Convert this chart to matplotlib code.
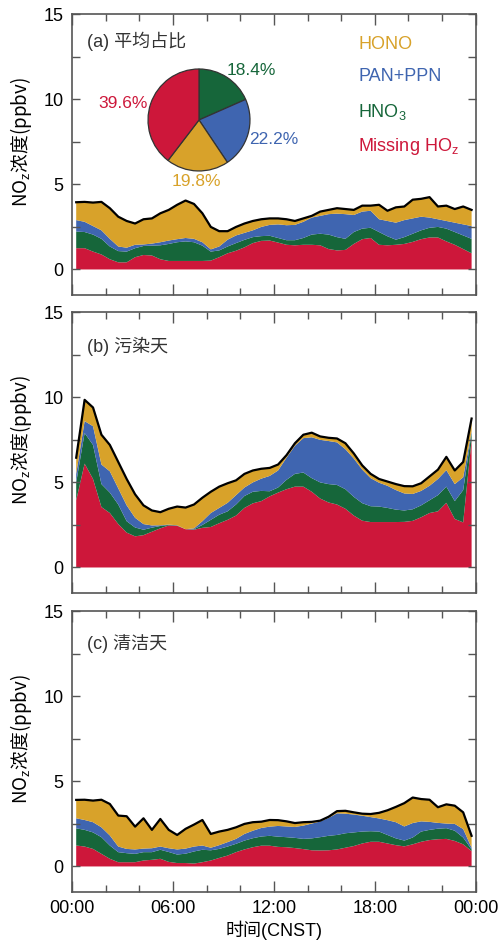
import numpy as np
import matplotlib
matplotlib.use("Agg")
import matplotlib.pyplot as plt
from matplotlib.ticker import MultipleLocator, FixedLocator

plt.rcParams['font.family'] = ['Liberation Sans', 'Noto Sans CJK SC']
plt.rcParams['mathtext.fontset'] = 'custom'
plt.rcParams['mathtext.rm'] = 'Liberation Sans'
plt.rcParams['mathtext.it'] = 'Liberation Sans:italic'
plt.rcParams['axes.unicode_minus'] = False

# 半小时平均，时间取每个时段中点
hours = np.arange(48) * 0.5 + 0.25

# (a) 平均日变化
missing_a = [1.25, 1.25, 1.05, 0.88, 0.60, 0.42, 0.42, 0.72, 0.85, 0.82, 0.60, 0.50,
             0.50, 0.50, 0.50, 0.50, 0.52, 0.72, 0.95, 1.10, 1.30, 1.55, 1.68, 1.70,
             1.58, 1.45, 1.42, 1.45, 1.45, 1.42, 1.20, 1.12, 1.15, 1.50, 1.78, 1.85,
             1.45, 1.42, 1.45, 1.50, 1.62, 1.78, 1.88, 1.88, 1.65, 1.45, 1.20, 0.95]
hno3_a = [0.98, 0.95, 1.00, 0.92, 0.75, 0.66, 0.63, 0.53, 0.53, 0.58, 0.82, 1.00,
          1.10, 1.15, 1.10, 0.90, 0.53, 0.40, 0.40, 0.45, 0.44, 0.35, 0.28, 0.28,
          0.27, 0.27, 0.30, 0.40, 0.60, 0.68, 0.85, 0.78, 0.65, 0.70, 0.62, 0.60,
          0.75, 0.53, 0.30, 0.40, 0.48, 0.52, 0.57, 0.62, 0.75, 0.75, 0.80, 0.85]
pan_a = [0.67, 0.60, 0.50, 0.50, 0.45, 0.27, 0.23, 0.20, 0.09, 0.12, 0.18, 0.20,
         0.18, 0.20, 0.20, 0.20, 0.13, 0.23, 0.40, 0.45, 0.41, 0.40, 0.54, 0.64,
         0.80, 0.88, 0.90, 0.95, 1.00, 1.05, 1.20, 1.38, 1.45, 1.00, 1.00, 1.00,
         0.75, 0.90, 1.00, 1.00, 0.90, 0.80, 0.60, 0.45, 0.45, 0.55, 0.65, 0.75]
hono_a = [1.05, 1.17, 1.38, 1.67, 1.80, 1.75, 1.57, 1.25, 1.48, 1.48, 1.70, 1.80,
          2.02, 2.20, 2.05, 1.70, 1.32, 0.90, 0.50, 0.50, 0.55, 0.55, 0.45, 0.38,
          0.35, 0.35, 0.23, 0.20, 0.10, 0.25, 0.25, 0.32, 0.30, 0.30, 0.35, 0.30,
          0.85, 0.60, 0.90, 0.80, 1.10, 1.05, 1.20, 0.75, 0.90, 0.80, 1.05, 0.95]

# (b) 污染天
missing_b = [3.95, 6.10, 5.20, 3.55, 3.20, 2.55, 2.05, 1.83, 1.90, 2.10, 2.30, 2.47,
             2.45, 2.25, 2.22, 2.33, 2.38, 2.60, 2.80, 3.05, 3.50, 3.77, 3.90, 4.18,
             4.40, 4.60, 4.75, 4.75, 4.45, 4.05, 3.82, 3.70, 3.45, 3.05, 2.75, 2.67,
             2.67, 2.67, 2.67, 2.68, 2.74, 2.95, 3.20, 3.30, 3.80, 2.85, 2.65, 7.50]
hno3_b = [1.05, 1.80, 2.00, 1.35, 1.20, 1.15, 0.67, 0.52, 0.32, 0.24, 0.14, 0.03,
          0.02, 0.00, 0.03, 0.17, 0.42, 0.50, 0.50, 0.65, 0.70, 0.68, 0.60, 0.30,
          0.30, 0.55, 0.75, 0.83, 0.80, 0.95, 1.08, 1.15, 1.15, 1.10, 1.03, 0.93,
          0.91, 0.83, 0.73, 0.67, 0.68, 0.70, 0.75, 0.95, 0.95, 1.05, 1.90, 0.40]
pan_b = [0.50, 0.70, 1.10, 1.15, 1.25, 0.95, 0.93, 0.57, 0.33, 0.13, 0.04, 0.02,
         0.01, 0.00, 0.05, 0.22, 0.40, 0.40, 0.50, 0.55, 0.50, 0.55, 0.72, 0.90,
         1.00, 1.30, 1.65, 2.02, 2.40, 2.50, 2.53, 2.50, 2.35, 2.25, 1.97, 1.65,
         1.40, 1.30, 1.15, 1.00, 0.90, 0.85, 0.85, 0.95, 0.97, 1.00, 0.75, 0.10]
hono_b = [0.95, 1.25, 1.10, 1.75, 1.55, 1.55, 1.55, 1.38, 1.10, 0.88, 0.77, 0.93,
          1.10, 1.27, 1.40, 1.38, 1.25, 1.25, 1.15, 0.87, 0.80, 0.70, 0.58, 0.47,
          0.35, 0.15, 0.15, 0.20, 0.27, 0.20, 0.19, 0.23, 0.35, 0.30, 0.25, 0.25,
          0.22, 0.25, 0.35, 0.43, 0.45, 0.45, 0.55, 0.55, 0.78, 0.80, 0.90, 0.75]

# (c) 清洁天
missing_c = [1.23, 1.17, 1.03, 0.74, 0.45, 0.25, 0.25, 0.25, 0.35, 0.39, 0.45, 0.27,
             0.20, 0.20, 0.17, 0.25, 0.35, 0.50, 0.64, 0.84, 1.00, 1.13, 1.22, 1.22,
             1.15, 1.13, 1.08, 1.02, 0.95, 0.94, 0.95, 1.00, 1.10, 1.20, 1.35, 1.45,
             1.45, 1.35, 1.25, 1.18, 1.30, 1.45, 1.55, 1.60, 1.62, 1.50, 1.30, 0.90]
hno3_c = [1.01, 0.98, 0.97, 0.98, 0.78, 0.59, 0.53, 0.49, 0.49, 0.45, 0.53, 0.58,
          0.50, 0.55, 0.71, 0.73, 0.60, 0.53, 0.53, 0.49, 0.52, 0.53, 0.54, 0.58,
          0.60, 0.59, 0.60, 0.60, 0.70, 0.78, 0.85, 0.85, 0.85, 0.80, 0.70, 0.62,
          0.60, 0.50, 0.40, 0.34, 0.40, 0.60, 0.60, 0.62, 0.63, 0.60, 0.40, 0.10]
pan_c = [0.59, 0.58, 0.60, 0.58, 0.59, 0.33, 0.25, 0.26, 0.21, 0.23, 0.19, 0.22,
         0.30, 0.30, 0.29, 0.25, 0.15, 0.22, 0.26, 0.29, 0.39, 0.44, 0.50, 0.54,
         0.63, 0.63, 0.64, 0.78, 0.87, 0.92, 1.05, 1.27, 1.15, 1.05, 0.93, 0.83,
         0.77, 0.87, 0.95, 0.83, 0.85, 0.60, 0.47, 0.34, 0.27, 0.40, 0.50, 0.10]
hono_c = [1.08, 1.19, 1.27, 1.62, 1.85, 1.82, 1.92, 1.34, 1.78, 1.08, 1.62, 1.08,
          0.85, 1.16, 1.29, 1.50, 0.81, 0.80, 0.72, 0.68, 0.59, 0.50, 0.37, 0.39,
          0.34, 0.30, 0.23, 0.20, 0.10, 0.05, 0.07, 0.13, 0.17, 0.13, 0.12, 0.18,
          0.33, 0.58, 0.90, 1.37, 1.50, 1.31, 1.30, 0.92, 1.13, 1.07, 0.98, 0.70]

# 平均占比 (%)，顺时针：HNO3, PAN+PPN, HONO, Missing HOz
pie_share = [18.4, 22.2, 19.8, 39.6]

c_hono = '#D8A22A'
c_pan = '#3F65B0'
c_hno3 = '#16663A'
c_miss = '#CD173A'
frame_c = '#555555'

panels = [
    ('(a) 平均占比', missing_a, hno3_a, pan_a, hono_a, 13.4),
    ('(b) 污染天', missing_b, hno3_b, pan_b, hono_b, 13.0),
    ('(c) 清洁天', missing_c, hno3_c, pan_c, hono_c, 13.1),
]
bottoms = [0.6875, 0.3718, 0.0551]

fig = plt.figure(figsize=(5.01, 9.44), dpi=100)
axes = []
for (title, miss, hno3, pan, hono, ty), bot in zip(panels, bottoms):
    ax = fig.add_axes([0.1437, bot, 0.806, 0.2975])
    axes.append(ax)
    ax.stackplot(hours, miss, hno3, pan, hono,
                 colors=[c_miss, c_hno3, c_pan, c_hono], linewidth=0)
    total = np.sum([miss, hno3, pan, hono], axis=0)
    ax.plot(hours, total, color='black', lw=1.6)

    ax.set_xlim(0, 24)
    ax.set_ylim(-1.5, 15)
    ax.xaxis.set_major_locator(MultipleLocator(6))
    ax.xaxis.set_minor_locator(MultipleLocator(2))
    ax.yaxis.set_major_locator(FixedLocator([0, 5, 10, 15]))
    ax.yaxis.set_minor_locator(FixedLocator([2.5, 7.5, 12.5]))
    ax.tick_params(which='both', direction='in', top=True, right=True,
                   color=frame_c, labelsize=13, width=1.0)
    ax.tick_params(axis='x', which='major', length=8, pad=6)
    ax.tick_params(axis='x', which='minor', length=5)
    ax.tick_params(axis='y', which='both', length=6, pad=6)
    for sp in ax.spines.values():
        sp.set_color(frame_c)
        sp.set_linewidth(1.2)

    ax.set_ylabel('NO$_\\mathrm{z}$浓度(ppbv)', fontsize=13.5,
                  family='Noto Sans CJK SC')
    ax.yaxis.set_label_coords(-0.095, 0.545)
    ax.text(0.87, ty, title, fontsize=13, color='#333333', ha='left', va='center')

for ax in axes[:2]:
    ax.set_xticklabels([])
axes[2].set_xticks([0, 6, 12, 18, 24])
axes[2].set_xticklabels(['00:00', '06:00', '12:00', '18:00', '00:00'])
axes[2].set_xlabel('时间(CNST)', fontsize=13, labelpad=2)

# 图例文字
ax = axes[0]
legend_items = [('HONO', c_hono, 13.23), ('PAN+PPN', c_pan, 11.34),
                ('HNO$_3$', c_hno3, 9.25), ('Missing HO$_\\mathrm{z}$', c_miss, 7.2)]
for lab, col, yy in legend_items:
    ax.text(17.0, yy, lab, color=col, fontsize=13, ha='left', va='center')

# 平均占比饼图
pax = fig.add_axes([0.2934, 0.8178, 0.2076, 0.1102])
pax.pie(pie_share, colors=[c_hno3, c_pan, c_hono, c_miss], startangle=90,
        counterclock=False, wedgeprops=dict(edgecolor='#333333', linewidth=0.9))
pax.set_xlim(-1.02, 1.02)
pax.set_ylim(-1.02, 1.02)
pie_labels = [(1.02, 0.98, c_hno3), (1.46, -0.38, c_pan),
              (-0.06, -1.21, c_hono), (-1.48, 0.33, c_miss)]
for share, (lx, ly, col) in zip(pie_share, pie_labels):
    pax.text(lx, ly, f'{share:.1f}%', color=col, fontsize=12.5,
             ha='center', va='center', clip_on=False)

fig.savefig('out.png', dpi=100)
